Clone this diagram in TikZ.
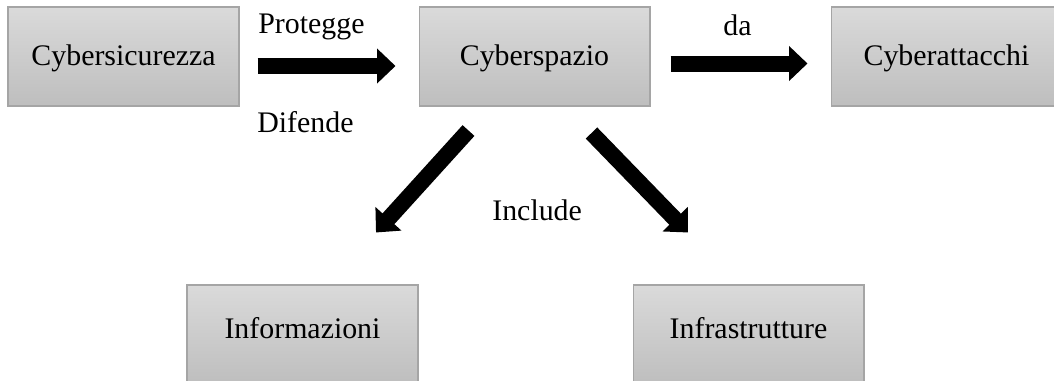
\documentclass[tikz,border=0pt]{standalone}
\usepackage{fontspec}
\setmainfont{Liberation Serif}
\usetikzlibrary{arrows.meta}
\definecolor{boxtop}{RGB}{218,218,218}
\definecolor{boxbot}{RGB}{190,190,190}
\definecolor{boxline}{RGB}{165,165,165}

\begin{document}
\begin{tikzpicture}[x=0.02cm, y=-0.02cm,
    >={Triangle[length=0.37cm, width=0.68cm]},
    concept/.style={draw=boxline, line width=0.6pt, top color=boxtop, bottom color=boxbot,
      minimum width=4.62cm, minimum height=1.98cm, inner sep=0pt,
      font=\fontsize{17}{20}\selectfont, text height=0.44cm, text depth=0.1cm},
    lowtext/.style={text depth=0.3cm},
    bigarrow/.style={->, line width=0.32cm},
    lbl/.style={anchor=base west, inner sep=0pt, font=\fontsize{17}{20}\selectfont}]
  \useasboundingbox (0,0) rectangle (1054,380);
  \node[concept] (sicurezza) at (123.5,56.5) {Cybersicurezza};
  \node[concept] (spazio) at (534.5,56.5) {Cyberspazio};
  \node[concept] (attacchi) at (946.5,56.5) {Cyberattacchi};
  \node[concept, lowtext] (info) at (302.5,334.5) {Informazioni};
  \node[concept, lowtext] (infra) at (748.5,334.5) {Infrastrutture};
  \draw[bigarrow] ([shift={(18,9.5)}]sicurezza.east) -- ([shift={(-23,9.5)}]spazio.west);
  \draw[bigarrow] ([shift={(20,7)}]spazio.east) -- ([shift={(-23,7)}]attacchi.west);
  \draw[bigarrow] ([shift={(-66,24)}]spazio.south) -- ([shift={(73.5,-52)}]info.north);
  \draw[bigarrow] ([shift={(57,26.5)}]spazio.south) -- ([shift={(-60.5,-52)}]infra.north);
  \node[lbl] (protegge) at (258,33) {Protegge};
  \node[lbl] (difende) at (257,132) {Difende};
  \node[lbl] (da) at (723,35) {da};
  \node[lbl] (include) at (492,220) {Include};
\end{tikzpicture}
\end{document}
